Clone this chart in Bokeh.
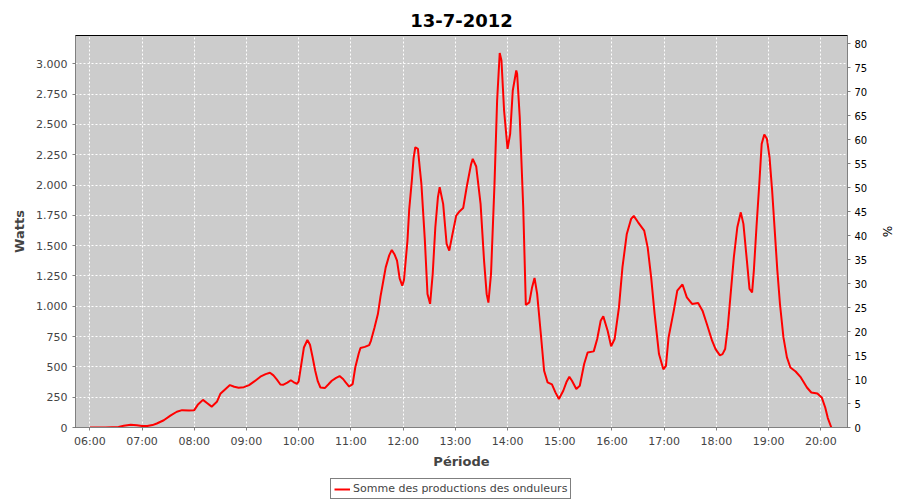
from bokeh.plotting import figure
from bokeh.layouts import column
from bokeh.models import Range1d, LinearAxis, FixedTicker, Legend, LegendItem, Title
from bokeh.embed import file_html
from bokeh.resources import INLINE

# ---- data -------------------------------------------------------------
title_text = "13-7-2012"
series_name = "Somme des productions des onduleurs"

times = ["06:00", "06:18", "06:33", "06:39", "06:47", "06:54", "07:00", "07:06", "07:12", "07:17",
         "07:25", "07:33", "07:40", "07:46", "07:54", "08:00", "08:04", "08:10", "08:15", "08:20",
         "08:26", "08:30", "08:36", "08:41", "08:46", "08:51", "08:57", "09:03", "09:09", "09:16",
         "09:22", "09:27", "09:31", "09:35", "09:39", "09:42", "09:47", "09:51", "09:54", "09:58",
         "10:00", "10:03", "10:06", "10:10", "10:13", "10:16", "10:19", "10:22", "10:25", "10:30",
         "10:34", "10:38", "10:43", "10:47", "10:51", "10:54", "10:58", "11:02", "11:05", "11:09",
         "11:11", "11:16", "11:21", "11:23", "11:27", "11:31", "11:34", "11:37", "11:40", "11:44",
         "11:47", "11:50", "11:53", "11:56", "11:59", "12:01", "12:05", "12:07", "12:10", "12:12",
         "12:14", "12:17", "12:19", "12:21", "12:25", "12:28", "12:31", "12:34", "12:37", "12:40",
         "12:42", "12:46", "12:50", "12:53", "12:56", "13:01", "13:05", "13:09", "13:13", "13:18",
         "13:20", "13:24", "13:29", "13:33", "13:36", "13:38", "13:41", "13:45", "13:48", "13:51",
         "13:53", "13:56", "14:00", "14:03", "14:06", "14:10", "14:11", "14:14", "14:18", "14:21",
         "14:25", "14:28", "14:31", "14:34", "14:38", "14:42", "14:46", "14:51", "14:55", "14:59",
         "15:04", "15:08", "15:11", "15:14", "15:19", "15:23", "15:28", "15:32", "15:39", "15:43",
         "15:47", "15:50", "15:55", "15:59", "16:03", "16:08", "16:12", "16:17", "16:22", "16:25",
         "16:30", "16:37", "16:41", "16:45", "16:49", "16:54", "16:59", "17:02", "17:05", "17:11",
         "17:15", "17:21", "17:26", "17:32", "17:39", "17:44", "17:49", "17:55", "17:59", "18:04",
         "18:07", "18:10", "18:13", "18:17", "18:20", "18:24", "18:28", "18:31", "18:35", "18:38",
         "18:41", "18:43", "18:46", "18:49", "18:52", "18:55", "18:58", "19:01", "19:04", "19:07",
         "19:10", "19:13", "19:17", "19:21", "19:25", "19:31", "19:37", "19:44", "19:49", "19:56",
         "20:01", "20:05", "20:08", "20:12"]

watts = [0, 0, 5, 15, 22, 18, 12, 12, 20, 33,
         60, 100, 130, 143, 140, 143, 187, 228, 200, 172,
         212, 278, 318, 350, 336, 328, 333, 350, 380, 419,
         440, 452, 430, 395, 355, 352, 370, 390, 375, 360,
         380, 520, 660, 722, 683, 580, 468, 380, 330, 325,
         355, 386, 410, 424, 400, 372, 338, 358, 495, 610,
         656, 665, 680, 715, 820, 936, 1080, 1200, 1321, 1420,
         1465, 1430, 1377, 1230, 1170, 1217, 1542, 1800, 2037, 2220,
         2312, 2299, 2150, 2010, 1542, 1102, 1020, 1267, 1652, 1900,
         1982, 1845, 1514, 1459, 1569, 1748, 1785, 1810, 1982, 2170,
         2216, 2153, 1845, 1377, 1100, 1030, 1267, 2010, 2698, 3090,
         3028, 2615, 2299, 2423, 2780, 2945, 2918, 2560, 1817, 1010,
         1032, 1150, 1234, 1102, 790, 468, 372, 355, 290, 235,
         303, 380, 419, 386, 318, 344, 524, 619, 628, 730,
         881, 917, 798, 670, 730, 991, 1321, 1597, 1721, 1746,
         1693, 1624, 1486, 1239, 936, 606, 480, 509, 743, 964,
         1129, 1180, 1073, 1019, 1027, 964, 854, 716, 647, 595,
         605, 647, 826, 1156, 1404, 1652, 1775, 1680, 1377, 1143,
         1115, 1294, 1652, 1982, 2340, 2417, 2382, 2230, 1955, 1624,
         1294, 1019, 743, 578, 495, 462, 413, 330, 289, 281,
         248, 165, 78, 0]

x_tick_labels = ["06:00", "07:00", "08:00", "09:00", "10:00", "11:00", "12:00", "13:00",
                 "14:00", "15:00", "16:00", "17:00", "18:00", "19:00", "20:00"]
y_ticks = [0, 250, 500, 750, 1000, 1250, 1500, 1750, 2000, 2250, 2500, 2750, 3000]
y_tick_labels = ["0", "250", "500", "750", "1.000", "1.250", "1.500", "1.750",
                 "2.000", "2.250", "2.500", "2.750", "3.000"]
pct_ticks = [0, 5, 10, 15, 20, 25, 30, 35, 40, 45, 50, 55, 60, 65, 70, 75, 80]


def to_hours(s):
    h, m = s.split(":")
    return int(h) + int(m) / 60.0


xs = [to_hours(t) for t in times]
x_ticks = [to_hours(t) for t in x_tick_labels]

FONT = "DejaVu Sans"
GREY = "#444444"
AXIS_GREY = "#808080"

p = figure(frame_width=772, frame_height=392, output_backend="svg", toolbar_location=None,
           x_range=Range1d(5.726, 20.51), y_range=Range1d(0, 3234),
           min_border_left=75, min_border_right=53, min_border_top=35,
           min_border_bottom=43, background_fill_color="#cccccc",
           border_fill_color="white")
p.extra_y_ranges = {"pct": Range1d(0, 81.67)}

# title
p.title.text = title_text
p.title.align = "center"
p.title.text_font = FONT
p.title.text_font_size = "18px"
p.title.text_font_style = "bold"
p.title.text_color = "black"
p.title.standoff = 0

# small empty spacer between the title and the plot frame
p.add_layout(Title(text=" ", text_font_size="7px", standoff=0), "above")

p.outline_line_color = "black"
p.outline_line_width = 1

# axes
for ax in [p.xaxis[0], p.yaxis[0]]:
    ax.axis_line_color = AXIS_GREY
    ax.major_tick_line_color = AXIS_GREY
    ax.minor_tick_line_color = None
    ax.major_tick_in = 0
    ax.major_tick_out = 3
    ax.major_label_text_font = FONT
    ax.major_label_text_font_size = "11px"
    ax.major_label_text_color = GREY
    ax.axis_label_text_font = FONT
    ax.axis_label_text_font_size = "13px"
    ax.axis_label_text_font_style = "bold"
    ax.axis_label_text_color = GREY

p.xaxis.ticker = FixedTicker(ticks=x_ticks)
p.xaxis.major_label_overrides = dict(zip(x_ticks, x_tick_labels))
p.xaxis.axis_label = "Période"
p.xaxis.axis_label_standoff = 3
p.xaxis.major_label_standoff = 4

p.yaxis.ticker = FixedTicker(ticks=y_ticks)
p.yaxis.major_label_overrides = dict(zip(y_ticks, y_tick_labels))
p.yaxis.axis_label = "Watts"
p.yaxis.axis_label_standoff = 6
p.yaxis.major_label_standoff = 5

right = LinearAxis(y_range_name="pct", axis_label="%",
                   ticker=FixedTicker(ticks=pct_ticks))
right.axis_line_color = AXIS_GREY
right.major_tick_line_color = AXIS_GREY
right.minor_tick_line_color = None
right.major_tick_in = 0
right.major_tick_out = 3
right.major_label_text_font = FONT
right.major_label_text_font_size = "10px"
right.major_label_text_color = "black"
right.major_label_standoff = 4
right.axis_label_text_font = FONT
right.axis_label_text_font_size = "12px"
right.axis_label_text_font_style = "normal"
right.axis_label_text_color = "black"
right.axis_label_standoff = 10
p.add_layout(right, "right")

# grid
for g in [p.xgrid[0], p.ygrid[0]]:
    g.grid_line_color = "white"
    g.grid_line_dash = "2 2"
    g.grid_line_width = 1
p.xgrid.ticker = FixedTicker(ticks=x_ticks)
p.ygrid.ticker = FixedTicker(ticks=y_ticks)

p.line(xs, watts, line_color="red", line_width=2)

# ---- legend strip below the chart ---------------------------------------
lp = figure(width=900, height=30, output_backend="svg", toolbar_location=None,
            x_range=Range1d(0, 1), y_range=Range1d(0, 1),
            min_border_left=0, min_border_right=0, min_border_top=0,
            min_border_bottom=0, background_fill_color="white",
            border_fill_color="white")
lp.axis.visible = False
lp.grid.visible = False
lp.outline_line_color = None
# same series; it lies outside this strip's ranges, only its legend key shows
key = lp.line(xs, watts, line_color="red", line_width=2)

legend = Legend(items=[LegendItem(label=series_name, renderers=[key])],
                location=(255, 2), orientation="horizontal")
legend.label_text_font = FONT
legend.label_text_font_size = "11px"
legend.label_text_color = GREY
legend.border_line_color = "black"
legend.border_line_width = 1
legend.background_fill_color = "white"
legend.background_fill_alpha = 1
legend.glyph_width = 16
legend.glyph_height = 12
legend.label_standoff = 3
legend.padding = 3
legend.margin = 0
legend.spacing = 0
lp.add_layout(legend, "center")

layout = column(p, lp, spacing=0)
open("out.html", "w").write(file_html(layout, INLINE))
